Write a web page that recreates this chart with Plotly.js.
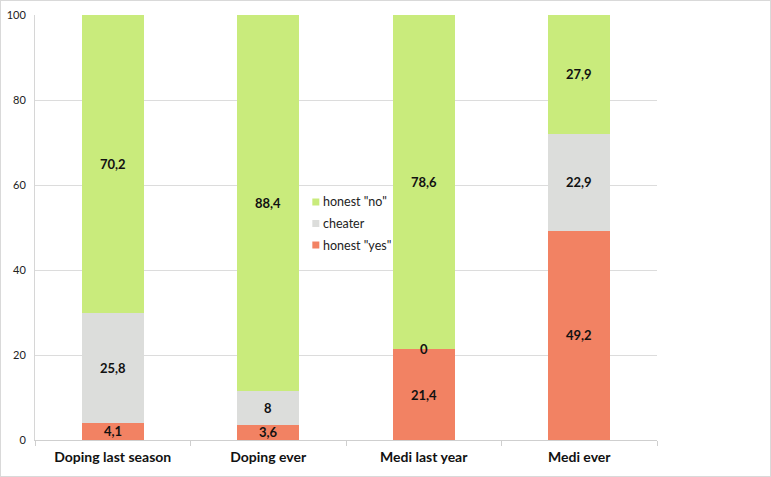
<!DOCTYPE html>
<html><head><meta charset="utf-8">
<script src="https://cdn.plot.ly/plotly-3.0.1.min.js"></script>
<style>
html,body{margin:0;padding:0;background:#fff;}
#chart{width:771px;height:477px;box-sizing:border-box;border:1px solid #d9d9d9;background:#fff;}
</style></head>
<body><div id="chart"></div>
<script>
const categories = ["Doping last season","Doping ever","Medi last year","Medi ever"];
const honestYes = [4.1, 3.6, 21.4, 49.2];
const cheater = [25.8, 8, 0, 22.9];
const honestNo = [70.2, 88.4, 78.6, 27.9];
const seriesNames = ['honest "yes"', 'cheater', 'honest "no"'];
const seriesColors = ['#f28263', '#dcdddb', '#c9eb7c'];
const yTicks = [0, 20, 40, 60, 80, 100];

const series = [honestYes, cheater, honestNo];
const traces = series.map((vals, i) => ({
  type: 'bar', x: categories, y: vals, name: seriesNames[i],
  marker: {color: seriesColors[i], line: {width: 0}},
  hoverinfo: 'none', showlegend: false
}));

const fmt = v => String(v).replace('.', ',');
const annotations = [];
const shapes = [];
categories.forEach((c, j) => {
  let base = 0;
  series.forEach(vals => {
    const v = vals[j];
    annotations.push({x: c, y: base + v / 2, xref: 'x', yref: 'y', text: '<b>' + fmt(v) + '</b>',
      showarrow: false, font: {family: 'Lato, "Open Sans", sans-serif', size: 13, color: '#111'}});
    base += v;
  });
});

// legend (reversed order: top item is last series)
const legX = 0.4515, legTextX = 0.4595, legY0 = 0.5600, legStep = 0.0506;
seriesNames.slice().reverse().forEach((name, k) => {
  const idx = seriesNames.length - 1 - k;
  const yy = legY0 - k * legStep;
  shapes.push({type: 'rect', xref: 'paper', yref: 'paper', xsizemode: 'pixel', ysizemode: 'pixel',
    xanchor: legX, yanchor: yy, x0: -3.5, x1: 3.5, y0: -3.5, y1: 3.5,
    fillcolor: seriesColors[idx], line: {width: 0}});
  annotations.push({x: legTextX, y: yy, xref: 'paper', yref: 'paper', xanchor: 'left', yanchor: 'middle',
    text: name, showarrow: false, font: {family: 'Lato, "Open Sans", sans-serif', size: 12.5, color: '#222'}});
});

const layout = {
  width: 769, height: 475,
  margin: {l: 34, r: 113, t: 14, b: 36},
  barmode: 'stack', bargap: 0.6,
  paper_bgcolor: '#fff', plot_bgcolor: '#fff',
  font: {family: 'Lato, "Open Sans", sans-serif', size: 11, color: '#222'},
  xaxis: {type: 'category', showgrid: false, showline: true, linecolor: '#cfcfcf', linewidth: 1,
    ticks: 'outside', tickson: 'boundaries', ticklen: 5, tickcolor: '#cfcfcf',
    tickfont: {size: 14, color: '#111', weight: 'bold'}, ticklabelstandoff: 4},
  yaxis: {range: [0, 100], tickvals: yTicks, showgrid: true, gridcolor: '#dcdcdc', gridwidth: 1,
    showline: true, linecolor: '#d6d6d6', zeroline: false, ticks: '', ticklabelstandoff: 6,
    tickfont: {size: 11, color: '#222'}},
  showlegend: false,
  annotations: annotations,
  shapes: shapes
};
Plotly.newPlot('chart', traces, layout, {displayModeBar: false, staticPlot: true});
</script></body></html>
